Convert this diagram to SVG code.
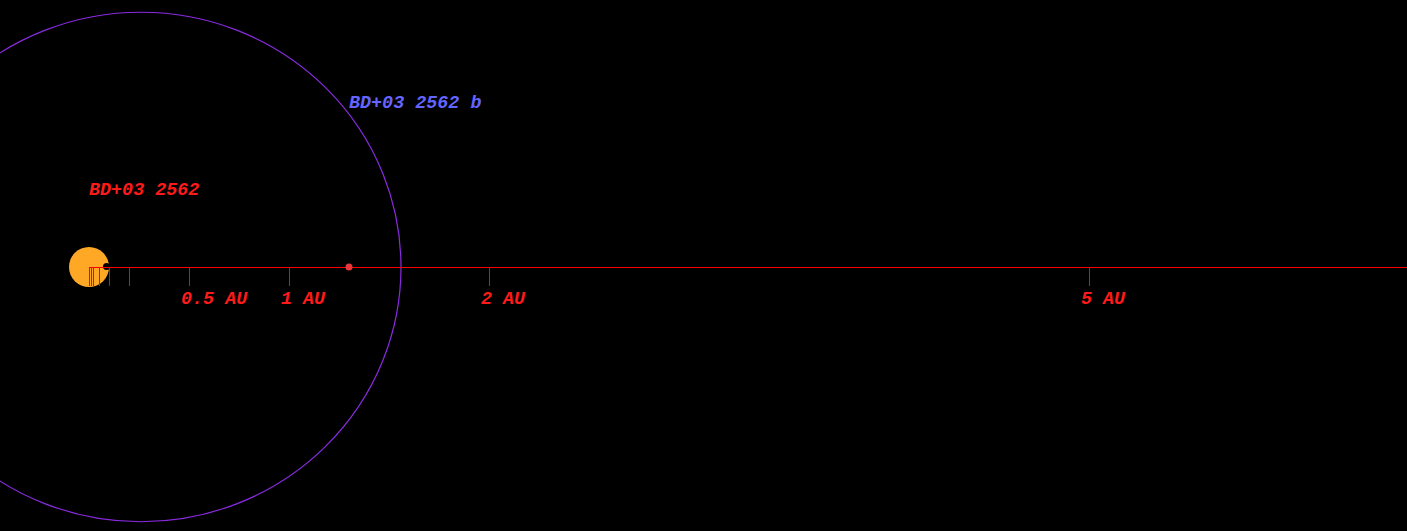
<svg xmlns="http://www.w3.org/2000/svg" width="1407" height="531" viewBox="0 0 1407 531">
<style>
text{font-family:"Liberation Mono","Courier New",monospace;font-style:italic;font-weight:bold;font-size:18.4px}
.red{fill:#ff1a1a}
.tick{stroke:#ff0000;stroke-width:1}
</style>
<rect width="1407" height="531" fill="#000"/>
<g id="star">
<circle cx="89" cy="267" r="20" fill="#ffa826"/>
<circle cx="106.5" cy="266.5" r="3.5" fill="#000"/>
</g>
<g id="orbit">
<ellipse cx="141" cy="267" rx="260" ry="254.75" fill="none" stroke="#8a2be2" stroke-width="1.2"/>
</g>
<g id="connectors">
<line x1="89" y1="267.5" x2="1407" y2="267.5" class="tick"/>
<g class="tick">
<line x1="89.5" y1="267" x2="89.5" y2="286"/>
<line x1="91.5" y1="267" x2="91.5" y2="286"/>
<line x1="93.5" y1="267" x2="93.5" y2="286"/>
<line x1="99.5" y1="267" x2="99.5" y2="286"/>
<line x1="109.5" y1="267" x2="109.5" y2="286"/>
<line x1="129.5" y1="267" x2="129.5" y2="286"/>
<line x1="189.5" y1="267" x2="189.5" y2="286"/>
<line x1="289.5" y1="267" x2="289.5" y2="286"/>
<line x1="489.5" y1="267" x2="489.5" y2="286"/>
<line x1="1089.5" y1="267" x2="1089.5" y2="286"/>
</g>
</g>
<g id="planet">
<circle cx="349" cy="267" r="3.5" fill="#e8383a"/>
</g>
<g id="labels">
<text x="89" y="194.5" class="red">BD+03 2562</text>
<text x="349" y="107.5" fill="#6464ff">BD+03 2562 b</text>
<text x="181" y="303.5" class="red">0.5 AU</text>
<text x="281" y="303.5" class="red">1 AU</text>
<text x="481" y="303.5" class="red">2 AU</text>
<text x="1081" y="303.5" class="red">5 AU</text>
</g>
</svg>
